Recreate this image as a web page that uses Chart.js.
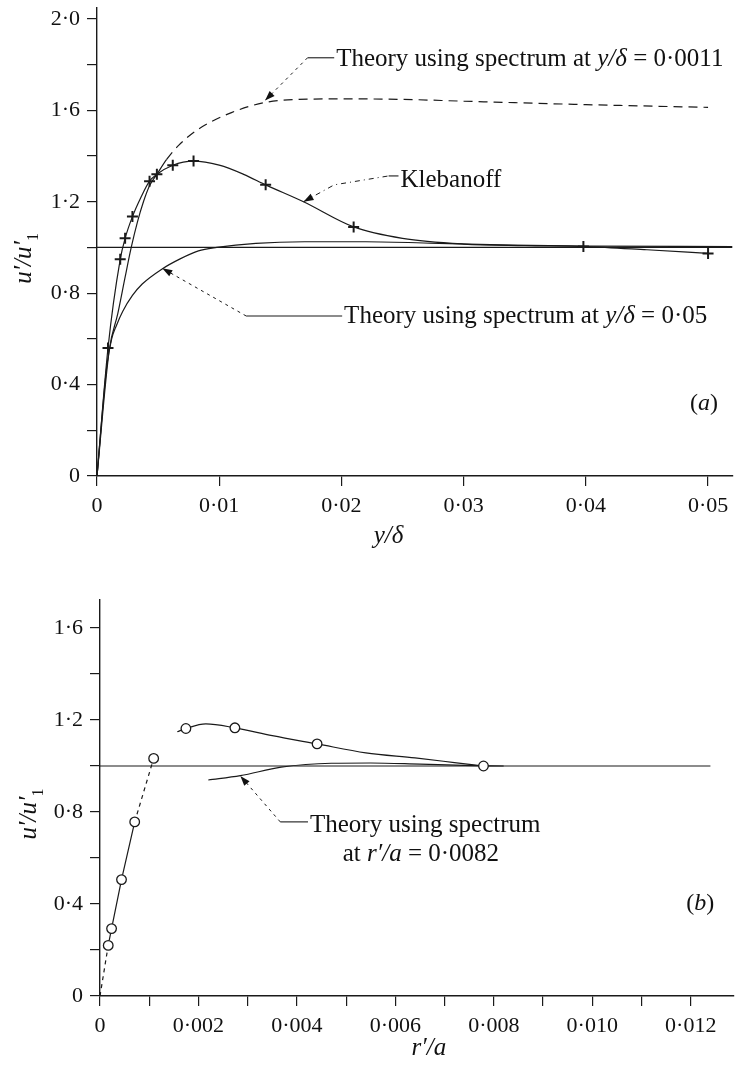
<!DOCTYPE html>
<html lang="en">
<head>
<meta charset="UTF-8">
<title>u'/u'1 near the wall</title>
<script src="https://cdn.jsdelivr.net/npm/chart.js"></script>
<style>
    body { margin: 0; background: #fff; }
    canvas { position: absolute; left: 0; }
</style>
</head>
<body>
<canvas id="chartB" width="740" height="530" style="top:540px"></canvas>
<canvas id="chartA" width="740" height="560" style="top:0"></canvas>
<script>
    // ---- panel (a): u'/u'1 against y/delta ----
    const klebDotsX = [0.0009, 0.0019, 0.0023, 0.0029, 0.0043, 0.0049, 0.0062, 0.0079, 0.0138, 0.021, 0.0398, 0.05];
    const klebDotsY = [0.56, 0.948, 1.04, 1.135, 1.29, 1.32, 1.36, 1.378, 1.274, 1.09, 1.004, 0.974];

    const klebCurveX = [0, 0.0009, 0.0019, 0.0023, 0.0029, 0.0036, 0.0043, 0.0049, 0.0062, 0.0079, 0.010, 0.012, 0.0138, 0.0169, 0.021, 0.025, 0.030, 0.035, 0.040, 0.045, 0.050];
    const klebCurveY = [0, 0.56, 0.948, 1.04, 1.135, 1.22, 1.29, 1.32, 1.36, 1.378, 1.36, 1.32, 1.274, 1.2, 1.09, 1.04, 1.015, 1.008, 1.004, 0.99, 0.974];

    const theory0011X = [0, 0.001, 0.0017, 0.0023, 0.0028, 0.0033, 0.0038, 0.0043, 0.0049, 0.0057, 0.0067, 0.0083, 0.011, 0.0138, 0.0165, 0.020, 0.025, 0.030, 0.040, 0.050];
    const theory0011Y = [0, 0.55, 0.71, 0.87, 1.0, 1.11, 1.2, 1.27, 1.32, 1.385, 1.448, 1.518, 1.59, 1.635, 1.648, 1.65, 1.648, 1.64, 1.625, 1.613];

    const theory005X = [0, 0.0008, 0.0012, 0.0016, 0.0021, 0.0029, 0.0037, 0.0053, 0.0068, 0.0083, 0.0098, 0.013, 0.017, 0.022, 0.028, 0.034, 0.040, 0.052];
    const theory005Y = [0, 0.48, 0.6, 0.66, 0.72, 0.79, 0.84, 0.905, 0.95, 0.985, 1.0, 1.018, 1.025, 1.025, 1.018, 1.01, 1.006, 1.004];

    const unityAX = [0, 0.052];
    const unityAY = [1, 1];

    // ---- panel (b): u'/u'1 against r'/a ----
    const pipeDotsX = [0.000167, 0.000235, 0.000437, 0.000705, 0.00109, 0.001745, 0.00274, 0.00441, 0.00779];
    const pipeDotsY = [0.22, 0.293, 0.506, 0.757, 1.033, 1.163, 1.166, 1.096, 1.0];

    const pipeRiseX = [0, 0.000167, 0.000235, 0.000437, 0.000705, 0.00109];
    const pipeRiseY = [0, 0.22, 0.293, 0.506, 0.757, 1.033];

    const pipeUpperX = [0.00157, 0.001745, 0.00215, 0.00274, 0.0035, 0.00441, 0.0054, 0.0064, 0.0072, 0.00779];
    const pipeUpperY = [1.149, 1.163, 1.183, 1.166, 1.132, 1.096, 1.057, 1.035, 1.015, 1.0];

    const pipeTheoryX = [0.0022, 0.00285, 0.00368, 0.0047, 0.0055, 0.0065, 0.0074, 0.0082];
    const pipeTheoryY = [0.939, 0.958, 0.995, 1.012, 1.013, 1.008, 1.003, 1.0];

    const unityBX = [0, 0.0124];
    const unityBY = [1, 1];

    const ink = '#1a1a1a';
    const serif = "'Liberation Serif', 'Times New Roman', serif";

    function pts(xs, ys) {
        return xs.map((x, i) => ({ x: x, y: ys[i] }));
    }

    function curve(xs, ys, extra) {
        return Object.assign({
            data: pts(xs, ys),
            showLine: true,
            borderColor: ink,
            borderWidth: 1.2,
            pointRadius: 0,
            cubicInterpolationMode: 'monotone'
        }, extra || {});
    }

    // tick labels: 0, 0·4, 0·8 ...
    function labelY(v) {
        const k = Math.round(v * 10);
        if (k % 4 !== 0) return '';
        return k === 0 ? '0' : (k / 10).toFixed(1).replace('.', '·');
    }
    function labelXA(v) {
        const k = Math.round(v * 100);
        return k === 0 ? '0' : '0·' + String(k).padStart(2, '0');
    }
    function labelXB(v) {
        const k = Math.round(v * 1000);
        if (k % 2 !== 0) return '';
        return k === 0 ? '0' : '0·' + String(k).padStart(3, '0');
    }

    function axis(min, max, step, fmt, size, horizontal) {
        return {
            type: 'linear',
            min: min,
            max: max,
            ticks: {
                stepSize: step,
                includeBounds: false,
                autoSkip: false,
                maxRotation: 0,
                padding: 7,
                color: '#111',
                font: { family: serif, size: 22 },
                callback: fmt
            },
            grid: { drawOnChartArea: false, drawTicks: true, tickLength: 10, color: ink, lineWidth: 1.2 },
            border: { display: true, color: ink, width: 1.4 },
            afterFit: function (s) {
                if (horizontal) s.height = size; else s.width = size;
                s.paddingTop = 0; s.paddingBottom = 0; s.paddingLeft = 0; s.paddingRight = 0;
            }
        };
    }

    function fontFor(p, size) {
        const sz = p.sub ? Math.round(size * 0.62) : size;
        return (p.it ? 'italic ' : '') + sz + 'px ' + serif;
    }

    function drawParts(ctx, parts, x, y, size, align) {
        const widths = parts.map(p => { ctx.font = fontFor(p, size); return ctx.measureText(p.t).width; });
        const total = widths.reduce((a, b) => a + b, 0);
        let cx = align === 'center' ? x - total / 2 : x;
        parts.forEach((p, i) => {
            ctx.font = fontFor(p, size);
            ctx.fillText(p.t, cx, y + (p.sub ? size * 0.28 : 0));
            cx += widths[i];
        });
    }

    function drawArrow(ctx, tip, from) {
        const a = Math.atan2(tip[1] - from[1], tip[0] - from[0]);
        const L = 10, W = 3.5;
        const bx = tip[0] - L * Math.cos(a), by = tip[1] - L * Math.sin(a);
        ctx.beginPath();
        ctx.moveTo(tip[0], tip[1]);
        ctx.lineTo(bx + W * Math.sin(a), by - W * Math.cos(a));
        ctx.lineTo(bx - W * Math.sin(a), by + W * Math.cos(a));
        ctx.closePath();
        ctx.fill();
    }

    // labels, leaders and arrows, placed in data units
    function notes(items) {
        return {
            id: 'notes',
            afterDatasetsDraw(chart) {
                const ctx = chart.ctx, sx = chart.scales.x, sy = chart.scales.y;
                const px = p => [sx.getPixelForValue(p[0]), sy.getPixelForValue(p[1])];
                ctx.save();
                ctx.fillStyle = '#111';
                ctx.strokeStyle = ink;
                ctx.textBaseline = 'alphabetic';
                items.forEach(it => {
                    if (it.type === 'rule') {
                        ctx.beginPath();
                        ctx.lineWidth = it.width || 1.1;
                        ctx.setLineDash(it.dash || []);
                        it.pts.map(px).forEach((p, i) => i ? ctx.lineTo(p[0], p[1]) : ctx.moveTo(p[0], p[1]));
                        ctx.stroke();
                        ctx.setLineDash([]);
                    } else if (it.type === 'arrow') {
                        drawArrow(ctx, px(it.tip), px(it.from));
                    } else if (it.type === 'text') {
                        const p = px(it.at);
                        if (it.rot) {
                            ctx.save();
                            ctx.translate(p[0], p[1]);
                            ctx.rotate(-Math.PI / 2);
                            drawParts(ctx, it.parts, 0, 0, it.size, 'center');
                            ctx.restore();
                        } else {
                            drawParts(ctx, it.parts, p[0], p[1], it.size, it.align);
                        }
                    }
                });
                ctx.restore();
            }
        };
    }

    const leaderDash = [3, 4];

    const notesA = [
        { type: 'rule', pts: [[0.01723, 1.830], [0.01375, 1.643]], dash: leaderDash, width: 1 },
        { type: 'arrow', tip: [0.01375, 1.643], from: [0.01723, 1.830] },
        { type: 'rule', pts: [[0.01723, 1.830], [0.01941, 1.830]] },
        { type: 'text', at: [0.01957, 1.796], size: 25, parts: [{ t: 'Theory using spectrum at ' }, { t: 'y/δ', it: true }, { t: ' = 0·0011' }] },

        { type: 'rule', pts: [[0.0169, 1.2], [0.01941, 1.274], [0.02386, 1.313]], dash: [5, 4, 1, 4], width: 1 },
        { type: 'arrow', tip: [0.0169, 1.2], from: [0.01941, 1.274] },
        { type: 'rule', pts: [[0.02386, 1.313], [0.02467, 1.313]] },
        { type: 'text', at: [0.02483, 1.265], size: 25, parts: [{ t: 'Klebanoff' }] },

        { type: 'rule', pts: [[0.01221, 0.70], [0.00534, 0.909]], dash: leaderDash, width: 1 },
        { type: 'arrow', tip: [0.00534, 0.909], from: [0.01221, 0.70] },
        { type: 'rule', pts: [[0.01221, 0.70], [0.02006, 0.70]] },
        { type: 'text', at: [0.02022, 0.67], size: 25, parts: [{ t: 'Theory using spectrum at ' }, { t: 'y/δ', it: true }, { t: ' = 0·05' }] },

        { type: 'text', at: [0.04852, 0.287], size: 24, parts: [{ t: '(' }, { t: 'a', it: true }, { t: ')' }] },
        { type: 'text', at: [0.02386, -0.291], size: 25, align: 'center', parts: [{ t: 'y/δ', it: true }] },
        { type: 'text', at: [-0.00542, 0.952], size: 25, rot: true, parts: [{ t: 'u′/u′', it: true }, { t: '1', sub: true }] }
    ];

    const notesB = [
        { type: 'rule', pts: [[0.003662, 0.757], [0.002851, 0.957]], dash: leaderDash, width: 1 },
        { type: 'arrow', tip: [0.002851, 0.957], from: [0.003662, 0.757] },
        { type: 'rule', pts: [[0.003662, 0.757], [0.004225, 0.757]] },
        { type: 'text', at: [0.004266, 0.713], size: 25, parts: [{ t: 'Theory using spectrum' }] },
        { type: 'text', at: [0.00493, 0.587], size: 25, parts: [{ t: 'at ' }, { t: 'r′/a', it: true }, { t: ' = 0·0082' }] },

        { type: 'text', at: [0.011911, 0.374], size: 24, parts: [{ t: '(' }, { t: 'b', it: true }, { t: ')' }] },
        { type: 'text', at: [0.00668, -0.257], size: 25, align: 'center', parts: [{ t: 'r′/a', it: true }] },
        { type: 'text', at: [-0.001308, 0.791], size: 25, rot: true, parts: [{ t: 'u′/u′', it: true }, { t: '1', sub: true }] }
    ];

    const baseOptions = {
        responsive: false,
        maintainAspectRatio: false,
        animation: false,
        plugins: { legend: { display: false }, tooltip: { enabled: false } }
    };

    new Chart(document.getElementById('chartA'), {
        type: 'scatter',
        data: {
            datasets: [
                {
                    data: pts(klebDotsX, klebDotsY),
                    pointStyle: 'cross',
                    pointRadius: 5.5,
                    borderColor: ink,
                    borderWidth: 2
                },
                curve(klebCurveX, klebCurveY),
                curve(theory0011X, theory0011Y, {
                    segment: { borderDash: c => c.p0.parsed.x >= 0.0057 ? [9, 6] : undefined }
                }),
                curve(theory005X, theory005Y),
                curve(unityAX, unityAY, { cubicInterpolationMode: 'default' })
            ]
        },
        options: Object.assign({}, baseOptions, {
            layout: { padding: { top: 4.5, left: 0, right: 0, bottom: 0 } },
            scales: {
                x: axis(0, 0.052, 0.01, labelXA, 84, true),
                y: axis(0, 2.05, 0.2, labelY, 97, false)
            }
        }),
        plugins: [notes(notesA)]
    });

    new Chart(document.getElementById('chartB'), {
        type: 'scatter',
        data: {
            datasets: [
                {
                    data: pts(pipeDotsX, pipeDotsY),
                    pointStyle: 'circle',
                    pointRadius: 4.8,
                    backgroundColor: '#fff',
                    borderColor: ink,
                    borderWidth: 1.3
                },
                curve(pipeRiseX, pipeRiseY, {
                    cubicInterpolationMode: 'default',
                    segment: { borderDash: c => (c.p0DataIndex === 0 || c.p0DataIndex === 4) ? [4, 4] : undefined }
                }),
                curve(pipeUpperX, pipeUpperY),
                curve(pipeTheoryX, pipeTheoryY),
                curve(unityBX, unityBY, { cubicInterpolationMode: 'default' })
            ]
        },
        options: Object.assign({}, baseOptions, {
            layout: { padding: { top: 60, left: 0, right: 0, bottom: 0 } },
            scales: {
                x: axis(0, 0.012877, 0.001, labelXB, 74, true),
                y: axis(0, 1.7217, 0.2, labelY, 100, false)
            }
        }),
        plugins: [notes(notesB)]
    });
</script>
</body>
</html>
